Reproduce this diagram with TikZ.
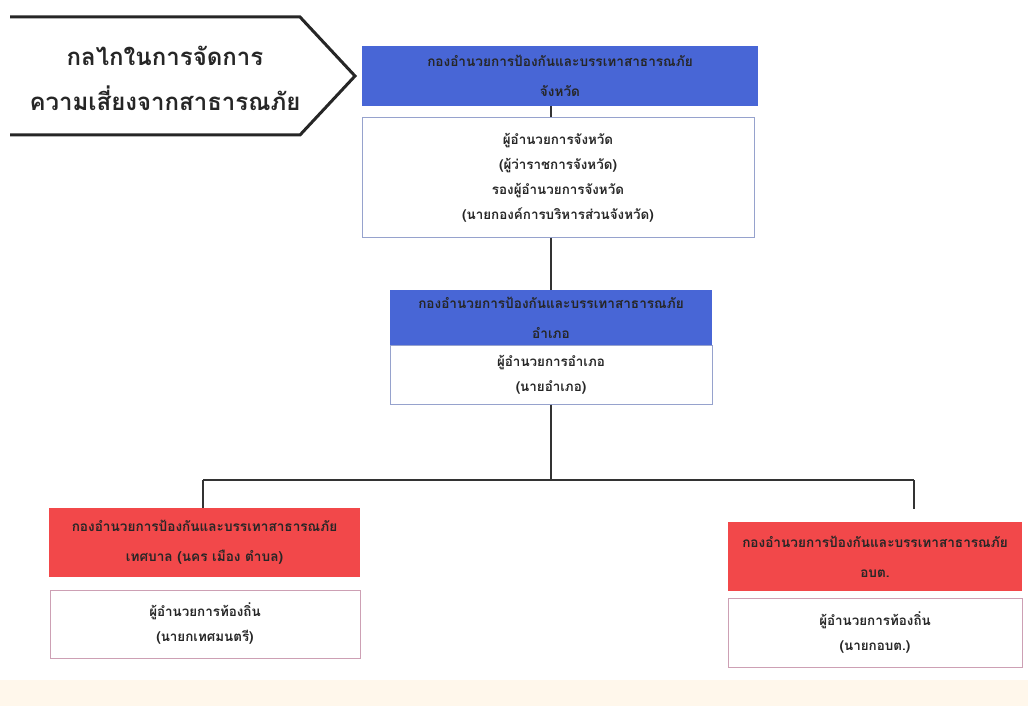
\documentclass[tikz,border=0pt]{standalone}
\usepackage{fontspec}
\newfontfamily\thaifont[Script=Thai]{Loma}
\usetikzlibrary{positioning}

\definecolor{headblue}{RGB}{72,102,214}
\definecolor{headred}{RGB}{242,72,74}
\definecolor{lineblue}{RGB}{150,162,205}
\definecolor{linepink}{RGB}{205,160,180}
\definecolor{stripcream}{RGB}{255,247,235}

\tikzset{
	head/.style={rectangle, inner sep=2pt, align=center, text=black!85,
		font=\thaifont\bfseries\fontsize{13.6}{30}\selectfont},
	bluehead/.style={head, fill=headblue},
	redhead/.style={head, fill=headred},
	namebox/.style={rectangle, draw=lineblue, line width=1pt, fill=white, align=center, text=black!85,
		font=\thaifont\bfseries\fontsize{13.4}{25}\selectfont},
	link/.style={draw=black!80, line width=1.6pt},
}

\begin{document}
\begin{tikzpicture}[x=1pt,y=-1pt]
	\useasboundingbox (0,0) rectangle (1028,706);
	\fill[stripcream] (0,680) rectangle (1028,706);

	% title arrow
	\coordinate (tl) at (10,17);
	\coordinate (tk) at (300,17);
	\coordinate (tip) at (355,76);
	\coordinate (bk) at (300,135);
	\coordinate (bl) at (10,135);
	\draw[black!85, line width=3pt, line join=miter] (tl) -- (tk) -- (tip) -- (bk) -- (bl);
	\node[align=center, text=black!85, font=\thaifont\bfseries\fontsize{24}{45}\selectfont] (title) at (165,78)
		{กลไกในการจัดการ\\ความเสี่ยงจากสาธารณภัย};

	\node[bluehead, minimum width=396pt, minimum height=60pt] (provhead) at (560,76)
		{กองอำนวยการป้องกันและบรรเทาสาธารณภัย\\จังหวัด};
	\node[namebox, minimum width=392pt, minimum height=119pt] (provname) at (558,177.5)
		{ผู้อำนวยการจังหวัด\\(ผู้ว่าราชการจังหวัด)\\รองผู้อำนวยการจังหวัด\\(นายกองค์การบริหารส่วนจังหวัด)};

	\node[bluehead, minimum width=322pt, minimum height=55pt] (disthead) at (551,317.5)
		{กองอำนวยการป้องกันและบรรเทาสาธารณภัย\\อำเภอ};
	\node[namebox, minimum width=322pt, minimum height=59pt] (distname) at (551,374.5)
		{ผู้อำนวยการอำเภอ\\(นายอำเภอ)};

	\node[redhead, minimum width=311pt, minimum height=69pt] (munhead) at (204.5,542.5)
		{กองอำนวยการป้องกันและบรรเทาสาธารณภัย\\เทศบาล (นคร เมือง ตำบล)};
	\node[namebox, draw=linepink, minimum width=310pt, minimum height=68pt] (munname) at (205,624)
		{ผู้อำนวยการท้องถิ่น\\(นายกเทศมนตรี)};

	\node[redhead, minimum width=294pt, minimum height=69pt] (taohead) at (875,556.5)
		{กองอำนวยการป้องกันและบรรเทาสาธารณภัย\\อบต.};
	\node[namebox, draw=linepink, minimum width=294pt, minimum height=69pt] (taoname) at (875,632.5)
		{ผู้อำนวยการท้องถิ่น\\(นายกอบต.)};

	\coordinate (busL) at (203,480);
	\coordinate (busM) at (551,480);
	\coordinate (busR) at (914,480);

	\draw[link] (provhead.south -| disthead.north) -- (provname.north -| disthead.north);
	\draw[link] (provname.south -| disthead.north) -- (disthead.north);
	\draw[link] (distname.south) -- (busM);
	\draw[link] (busL) -- (busR);
	\draw[link] (busL) -- (busL |- munhead.north);
	\draw[link, shorten >=13pt] (busR) -- (busR |- taohead.north);
\end{tikzpicture}
\end{document}
